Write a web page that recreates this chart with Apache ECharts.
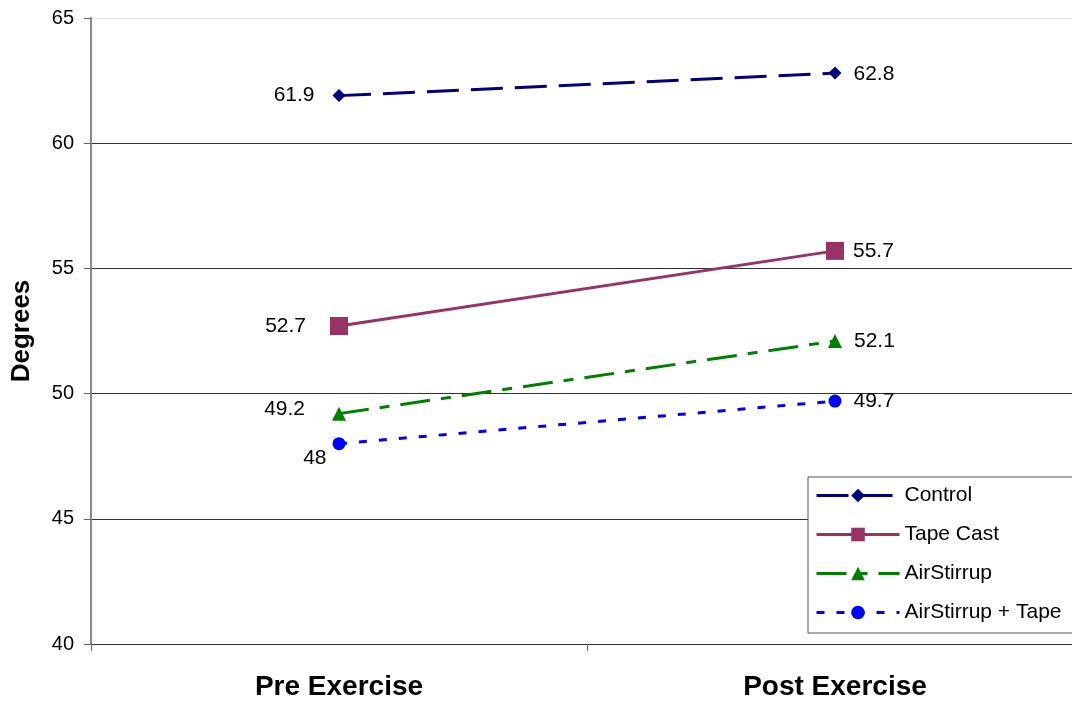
<!DOCTYPE html>
<html>
<head>
<meta charset="utf-8">
<script src="https://cdn.jsdelivr.net/npm/echarts@6/dist/echarts.min.js"></script>
<style>
  html, body { margin: 0; padding: 0; background: #fff; }
  #chart { width: 1072px; height: 704px; }
</style>
</head>
<body>
<div id="chart"></div>
<script>
// Range of motion before and after exercise, by support type
const categories = ['Pre Exercise', 'Post Exercise'];
const control = [61.9, 62.8];
const tapeCast = [52.7, 55.7];
const airStirrup = [49.2, 52.1];
const airStirrupTape = [48, 49.7];
const yTicks = { min: 40, max: 65, interval: 5 };

const FONT = '"Liberation Sans", Arial, sans-serif';

function labelled(values, pre, post) {
  return values.map((v, i) => ({ value: v, label: i === 0 ? pre : post }));
}

function series(name, values, color, dash, symbol, size, pre, post) {
  return {
    name: name,
    type: 'line',
    data: labelled(values, pre, post),
    symbol: symbol,
    symbolSize: size,
    color: color,
    itemStyle: { color: color },
    lineStyle: { color: color, width: 3, type: dash },
    label: {
      show: true,
      color: '#000',
      fontFamily: FONT,
      fontSize: 21
    },
    emphasis: { disabled: true },
    animation: false
  };
}

// the top gridline is faint, the others dark
const splitColors = ['#333', '#333', '#333', '#333', '#333', '#e2e2e2'];

const chart = echarts.init(document.getElementById('chart'));
chart.setOption({
  backgroundColor: '#fff',
  animation: false,
  grid: { left: 91, top: 18, bottom: 60, right: -11, containLabel: false, outerBoundsMode: 'none' },
  legend: {
    orient: 'vertical',
    left: 808,
    top: 477,
    width: 262,
    padding: [8, 60, 10, 7],
    itemWidth: 83,
    itemHeight: 17,
    itemGap: 18,
    backgroundColor: '#fff',
    borderColor: '#555',
    borderWidth: 1,
    lineStyle: { width: 3 },
    textStyle: { fontFamily: FONT, fontSize: 21, color: '#000' },
    data: ['Control', 'Tape Cast', 'AirStirrup', 'AirStirrup + Tape']
  },
  xAxis: {
    type: 'category',
    data: categories,
    boundaryGap: true,
    axisLine: { lineStyle: { color: '#333', width: 1 } },
    axisTick: { show: true, length: 7, lineStyle: { color: '#666' } },
    axisLabel: { fontFamily: FONT, fontSize: 28, fontWeight: 'bold', color: '#000', margin: 29 },
    splitLine: { show: false }
  },
  yAxis: {
    type: 'value',
    min: yTicks.min,
    max: yTicks.max,
    interval: yTicks.interval,
    name: 'Degrees',
    nameLocation: 'middle',
    nameGap: 56,
    nameTextStyle: { fontFamily: FONT, fontSize: 26, fontWeight: 'bold', color: '#000' },
    axisLine: { show: true, lineStyle: { color: '#888', width: 2 } },
    axisTick: { show: true, length: 7, lineStyle: { color: '#666' } },
    axisLabel: { fontFamily: FONT, fontSize: 20, color: '#000', margin: 17 },
    splitLine: { show: true, lineStyle: { color: splitColors, width: 1 } }
  },
  series: [
    series('Control', control, '#000080', [32, 12], 'diamond', 13,
      { position: 'left', distance: 18 }, { position: 'right', distance: 12, offset: [0, 1] }),
    series('Tape Cast', tapeCast, '#993366', 'solid', 'rect', 18,
      { position: 'left', distance: 24 }, { position: 'right', distance: 9 }),
    series('AirStirrup', airStirrup, '#008000', [30, 11, 10, 11], 'triangle', 14,
      { position: 'left', distance: 27, offset: [0, -4] }, { position: 'right', distance: 12 }),
    series('AirStirrup + Tape', airStirrupTape, '#0000FF', [8, 12], 'circle', 13,
      { position: 'left', distance: 6, offset: [0, 15] }, { position: 'right', distance: 12 })
  ]
});
</script>
</body>
</html>
